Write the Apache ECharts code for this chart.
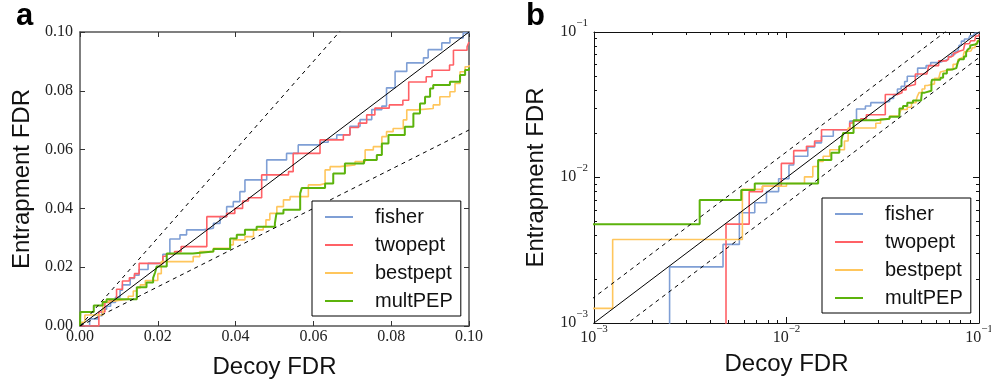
<!DOCTYPE html>
<html>
<head>
<meta charset="utf-8">
<script src="https://cdn.jsdelivr.net/npm/echarts@6/dist/echarts.min.js"></script>
<style>
  html, body { margin: 0; padding: 0; background: #fff; }
  #chart { width: 991px; height: 383px; }
</style>
</head>
<body>
<div id="chart"></div>
<script>
// step curves: [decoy FDR, entrapment FDR]
const seriesNames = ["fisher", "twopept", "bestpept", "multPEP"];
const seriesColors = ["#7f9fd5", "#ff6166", "#ffc65c", "#5cb30c"];

const fisher = [
  [0, 0], [0.00247, 0.00243], [0.00468, 0.00347], [0.00569, 0.00572], [0.00684, 0.0067],
  [0.00787, 0.008], [0.0091, 0.0098], [0.0103, 0.0122], [0.0109, 0.014], [0.0129, 0.0162],
  [0.014, 0.0173], [0.0152, 0.0192], [0.0175, 0.0213], [0.0213, 0.0244], [0.0231, 0.0296],
  [0.0257, 0.031], [0.0274, 0.0327], [0.0317, 0.0333], [0.0343, 0.0349], [0.036, 0.0372],
  [0.0377, 0.0406], [0.0394, 0.0423], [0.0411, 0.0457], [0.0424, 0.0497], [0.048, 0.0565],
  [0.0531, 0.0587], [0.0561, 0.0616], [0.0617, 0.0625], [0.0638, 0.0635], [0.066, 0.065],
  [0.0694, 0.0679], [0.072, 0.0702], [0.075, 0.0736], [0.0776, 0.0748], [0.0788, 0.081],
  [0.081, 0.0866], [0.084, 0.0895], [0.0883, 0.0912], [0.0895, 0.094], [0.093, 0.0963],
  [0.0951, 0.098], [0.0985, 0.0997], [0.1, 0.1]
];
const twopept = [
  [0, 0], [0.00485, 0.00478], [0.0064, 0.008], [0.0075, 0.0087], [0.0094, 0.0125],
  [0.0109, 0.0153], [0.0127, 0.0164], [0.014, 0.0178], [0.0152, 0.0213], [0.0213, 0.0237],
  [0.0222, 0.0245], [0.0243, 0.0253], [0.026, 0.027], [0.0326, 0.0372], [0.0377, 0.0383],
  [0.0398, 0.04], [0.0418, 0.0425], [0.0433, 0.0436], [0.0467, 0.0514], [0.0536, 0.0525],
  [0.0548, 0.0587], [0.0617, 0.0633], [0.0677, 0.065], [0.0694, 0.0675], [0.0716, 0.069],
  [0.0737, 0.0718], [0.0758, 0.0741], [0.0795, 0.0752], [0.083, 0.0768], [0.0845, 0.083],
  [0.089, 0.0848], [0.0905, 0.087], [0.095, 0.0888], [0.096, 0.0938], [0.0995, 0.095],
  [0.1, 0.0966]
];
const bestpept = [
  [0, 0], [0.0003, 0.00126], [0.00125, 0.00375], [0.0059, 0.0083], [0.0075, 0.0087],
  [0.01, 0.0091], [0.0124, 0.0101], [0.0137, 0.0119], [0.0146, 0.0129], [0.0155, 0.014],
  [0.0168, 0.0155], [0.02, 0.0178], [0.0209, 0.0219], [0.0291, 0.0236], [0.0308, 0.0253],
  [0.0343, 0.0264], [0.0386, 0.0276], [0.0394, 0.0293], [0.0424, 0.0304], [0.0446, 0.0327],
  [0.0471, 0.0338], [0.0478, 0.0361], [0.0488, 0.0383], [0.0506, 0.0406], [0.0523, 0.0429],
  [0.054, 0.044], [0.0587, 0.048], [0.0617, 0.0485], [0.063, 0.0531], [0.0643, 0.0542],
  [0.0668, 0.0548], [0.0707, 0.0559], [0.0733, 0.0599], [0.0754, 0.061], [0.0776, 0.0644],
  [0.0788, 0.0661], [0.0805, 0.0672], [0.0831, 0.0701], [0.084, 0.0735], [0.0866, 0.074],
  [0.0908, 0.0752], [0.0925, 0.078], [0.0951, 0.0797], [0.0964, 0.0825], [0.0977, 0.0865],
  [0.099, 0.0882], [0.1, 0.0888]
];
const multPEP = [
  [0, 0], [0.0001, 0.00478], [0.00354, 0.007], [0.00582, 0.0082], [0.00684, 0.0091],
  [0.0146, 0.0132], [0.0171, 0.0148], [0.0188, 0.0164], [0.0193, 0.0182], [0.0197, 0.0202],
  [0.0223, 0.0247], [0.029, 0.0253], [0.0343, 0.0262], [0.0386, 0.0298], [0.0403, 0.031],
  [0.0424, 0.0327], [0.0454, 0.0338], [0.0501, 0.0349], [0.0505, 0.0383], [0.0523, 0.0395],
  [0.0566, 0.0451], [0.057, 0.0469], [0.063, 0.0485], [0.0651, 0.0519], [0.0681, 0.0553],
  [0.073, 0.0565], [0.0763, 0.0582], [0.0776, 0.0621], [0.0793, 0.065], [0.0835, 0.0678],
  [0.0857, 0.0723], [0.0874, 0.0757], [0.0887, 0.078], [0.09, 0.0808], [0.0908, 0.082],
  [0.0951, 0.0831], [0.0977, 0.0854], [0.099, 0.0871], [0.1, 0.0878]
];
const curves = [fisher, twopept, bestpept, multPEP];

// reference lines y = k * x (k = 1/1.5, 1, 1.5)
const refSlopes = [1 / 1.5, 1, 1.5];
const refX = [0.00001, 0.1];

const serif = "Liberation Serif";
const sans = "Liberation Sans";

const myChart = echarts.init(document.getElementById("chart"));

// log axes can't take 0, push it far below the visible range
const floorLog = (pts) => pts.map((p) => [Math.max(p[0], 1e-6), Math.max(p[1], 1e-6)]);

const supLabel = (v) => "{b|10}{s|\u2212" + Math.round(-Math.log10(v)) + "}";
const supRich = {
  b: { fontFamily: serif, fontSize: 16, color: "#222", verticalAlign: "bottom", lineHeight: 22 },
  s: { fontFamily: serif, fontSize: 11, color: "#222", verticalAlign: "top", lineHeight: 22 },
};

const linAxis = (gridIndex, position, main, isY) => ({
  gridIndex,
  type: "value",
  position,
  min: 0,
  max: 0.1,
  interval: 0.02,
  axisLine: { show: true, onZero: false, lineStyle: { color: "#555", width: 1.5 } },
  axisTick: { show: true, inside: true, length: 5, lineStyle: { color: "#333" } },
  axisLabel: {
    show: main,
    fontFamily: serif,
    fontSize: 16,
    color: "#222",
    margin: isY ? 7 : 3,
    showMinLabel: true,
    showMaxLabel: true,
    formatter: (v) => v.toFixed(2),
  },
  splitLine: { show: false },
  name: main ? (isY ? "Entrapment FDR" : "Decoy FDR") : "",
  nameLocation: "middle",
  nameGap: isY ? 46 : 29,
  nameTextStyle: { fontFamily: sans, fontSize: 24, color: "#111" },
});

const logAxis = (gridIndex, position, main, isY) => ({
  gridIndex,
  type: "log",
  logBase: 10,
  position,
  min: 0.001,
  max: 0.1,
  axisLine: { show: true, onZero: false, lineStyle: { color: "#111", width: 1 } },
  axisTick: { show: true, inside: true, length: 6, lineStyle: { color: "#111" } },
  minorTick: { show: true, splitNumber: 9, length: 3, lineStyle: { color: "#111" } },
  axisLabel: {
    show: main,
    margin: isY ? 6 : 1,
    showMinLabel: true,
    showMaxLabel: true,
    formatter: supLabel,
    rich: supRich,
    padding: isY ? [0, 0, 7, 0] : 0,
  },
  splitLine: { show: false },
  minorSplitLine: { show: false },
  name: main ? (isY ? "Entrapment FDR" : "Decoy FDR") : "",
  nameLocation: "middle",
  nameGap: isY ? 46 : 29,
  nameTextStyle: { fontFamily: sans, fontSize: 24, color: "#111" },
});

const series = [];
// panel a (linear) and panel b (log)
[0, 1].forEach((g) => {
  const xi = g * 2;
  const yi = g * 2;
  refSlopes.forEach((k) => {
    series.push({
      type: "line",
      xAxisIndex: xi,
      yAxisIndex: yi,
      data: refX.map((x) => [x, k * x]),
      showSymbol: false,
      silent: true,
      z: 3,
      lineStyle: { color: "#000", width: 1, type: k === 1 ? "solid" : [4, 4] },
    });
  });
  curves.forEach((pts, i) => {
    series.push({
      name: seriesNames[i],
      type: "line",
      step: "end",
      xAxisIndex: xi,
      yAxisIndex: yi,
      data: g === 0 ? pts : floorLog(pts),
      showSymbol: false,
      clip: true,
      z: 2,
      color: seriesColors[i],
      lineStyle: { color: seriesColors[i], width: i === 3 ? 2 : 1.6 },
    });
  });
});

const legendBase = {
  data: seriesNames,
  orient: "vertical",
  icon: "rect",
  itemWidth: 28,
  itemHeight: 2,
  itemGap: 8,
  padding: [6, 8, 5, 13],
  borderColor: "#000",
  borderWidth: 1,
  borderRadius: 0,
  backgroundColor: "#fff",
  selectedMode: false,
  textStyle: { fontFamily: sans, fontSize: 20, color: "#111", padding: [0, 0, 0, 17] },
};

const option = {
  animation: false,
  backgroundColor: "#fff",
  grid: [
    { left: 80, top: 32, width: 389, height: 294, outerBoundsMode: "none" },
    { left: 594, top: 32, width: 385, height: 291, outerBoundsMode: "none" },
  ],
  xAxis: [
    linAxis(0, "bottom", true, false),
    linAxis(0, "top", false, false),
    logAxis(1, "bottom", true, false),
    logAxis(1, "top", false, false),
  ],
  yAxis: [
    linAxis(0, "left", true, true),
    linAxis(0, "right", false, true),
    logAxis(1, "left", true, true),
    logAxis(1, "right", false, true),
  ],
  legend: [
    Object.assign({}, legendBase, { left: 312, top: 201 }),
    Object.assign({}, legendBase, { left: 822, top: 198 }),
  ],
  graphic: [
    { type: "text", left: 16, top: 1, style: { text: "a", font: "bold 31px 'Liberation Sans'", fill: "#000" } },
    { type: "text", left: 526, top: 1, style: { text: "b", font: "bold 31px 'Liberation Sans'", fill: "#000" } },
  ],
  series,
};

myChart.setOption(option);
</script>
</body>
</html>
